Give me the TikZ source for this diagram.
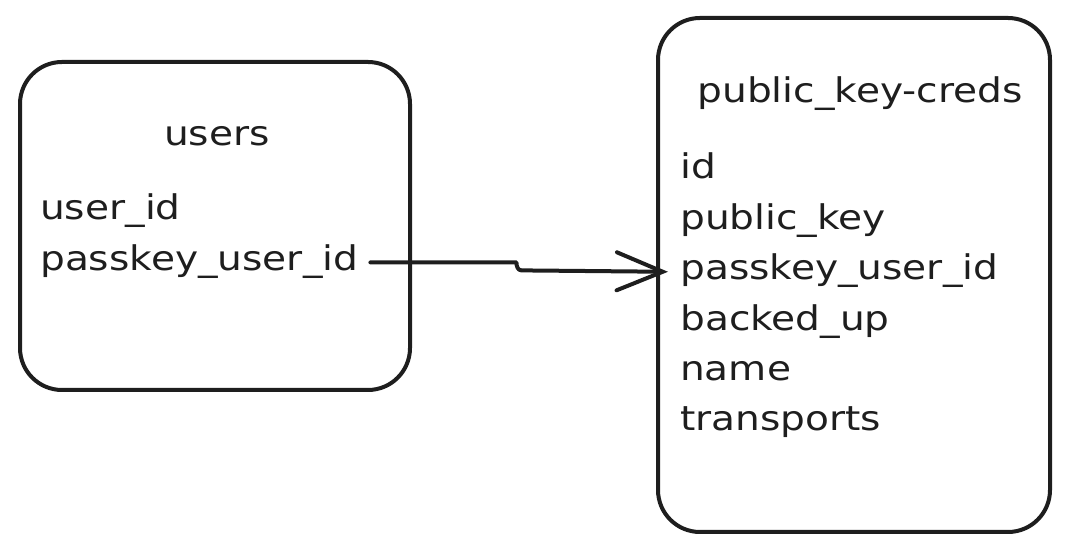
\documentclass[tikz,border=0pt]{standalone}
\usepackage{fontspec}
\setmainfont{DejaVu Sans}[FakeStretch=1.15]
\usepackage{tikz}
\usetikzlibrary{arrows,arrows.meta,shapes.geometric,positioning}
\usepackage{color, colortbl}
\definecolor{ink}{HTML}{1E1E1E}

\begin{document}
\begin{tikzpicture}[x=1pt, y=1pt, node distance = 16pt and 0pt,
                    table/.style = {draw=ink, line width=4pt, rounded corners=42pt, inner sep=0pt, outer sep=0pt},
                    field/.style = {text=ink, font=\fontsize{34}{40}\selectfont, inner sep=0pt, text height=25pt, text depth=9pt},
                    link/.style = {draw=ink, line width=4pt, line cap=round, line join=round, -{Straight Barb[length=46pt, width=38pt, line cap=round]}}]
\useasboundingbox (0,0) rectangle (1068,553);
\node[table, minimum width=390pt, minimum height=328pt] (users) at (215,327) {};
\node[table, minimum width=392pt, minimum height=514pt] (creds) at (854,278) {};
\node[field, anchor=base] (t1) at (217,407) {users};
\node[field, anchor=base west] (uid) at (40,333) {user\_id};
\node[field, below right= of uid.south west] (lpuid) {passkey\_user\_id};
\node[field, anchor=base] (t2) at (860,450) {public\_key-creds};
\node[field, anchor=base west] (id) at (680,374) {id};
\node[field, below right= of id.south west] (pk) {public\_key};
\node[field, below right= of pk.south west] (rpuid) {passkey\_user\_id};
\node[field, below right= of rpuid.south west] (bu) {backed\_up};
\node[field, below right= of bu.south west] (nm) {name};
\node[field, below right= of nm.south west] (tr) {transports};
\draw[link] ([xshift=12pt]lpuid.east) -- ++(146,0) to[out=-90, in=180] ++(5,-8) -- ([xshift=-12pt]rpuid.west);
\end{tikzpicture}
\end{document}
